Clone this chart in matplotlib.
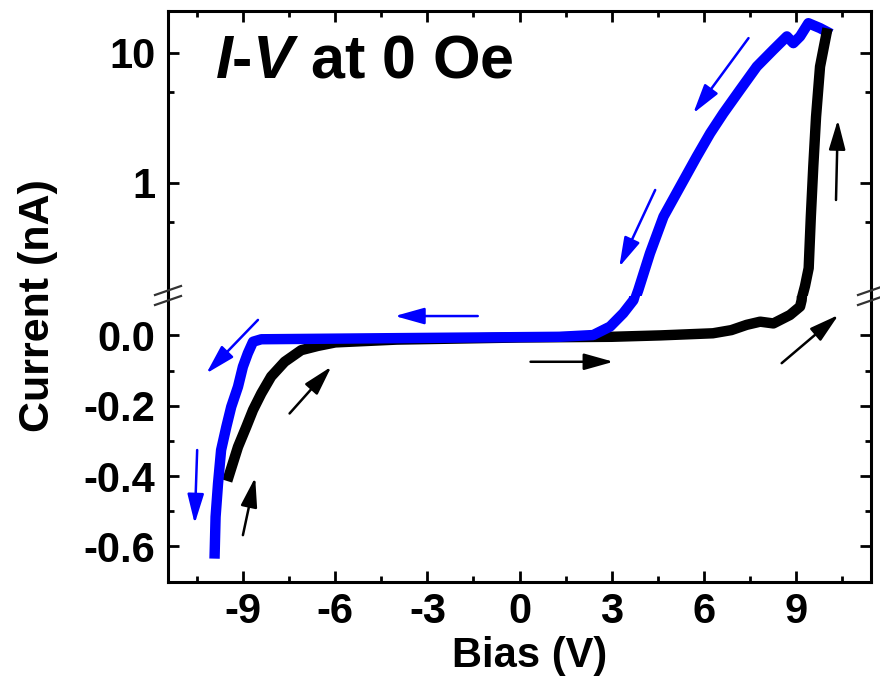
import matplotlib
matplotlib.use("Agg")
import matplotlib.pyplot as plt
from matplotlib.ticker import FixedLocator, NullFormatter

plt.rcParams['font.family'] = ['Liberation Sans', 'DejaVu Sans']
plt.rcParams['font.weight'] = 'bold'
plt.rcParams['axes.unicode_minus'] = False
plt.rcParams['mathtext.fontset'] = 'custom'
plt.rcParams['mathtext.it'] = 'Liberation Sans:italic:bold'
plt.rcParams['mathtext.rm'] = 'Liberation Sans:bold'

# ---------------- data ----------------
# forward sweep (black), linear section
black_low_x = [-9.47, -9.34, -9.17, -8.90, -8.68, -8.41, -8.09, -7.65, -7.11, -6.57, -6.0, -4.0,
               0.0, 3.0, 4.6, 6.3, 6.9, 7.4, 7.84, 8.27, 8.81, 9.14, 9.19, 9.21]
black_low_y = [-0.40, -0.364, -0.317, -0.26, -0.212, -0.165, -0.117, -0.075, -0.042, -0.030, -0.020, -0.012,
               -0.006, -0.004, 0.0, 0.006, 0.015, 0.030, 0.039, 0.034, 0.058, 0.082, 0.10, 0.12]
# forward sweep (black), log section
black_up_x = [9.20, 9.30, 9.42, 9.49, 9.57, 9.66, 9.79, 10.0]
black_up_y = [0.13, 0.16, 0.22, 0.547, 1.33, 3.2, 7.8, 14.0]

# backward sweep (blue), log section
blue_up_x = [10.0, 9.79, 9.41, 9.14, 8.92, 8.71, 8.27, 7.73, 7.18, 6.64, 6.21, 5.77, 5.23, 4.69, 4.25, 3.87, 3.78]
blue_up_y = [14.5, 15.4, 16.8, 13.3, 11.8, 13.3, 10.5, 7.8, 5.15, 3.41, 2.39, 1.58, 0.93, 0.547, 0.286, 0.149, 0.13]
# backward sweep (blue), linear section
blue_low_x = [3.78, 3.71, 3.38, 2.95, 2.40, 1.30, -4.3, -8.41, -8.68, -8.85, -9.01, -9.17, -9.39, -9.55,
              -9.72, -9.82, -9.90, -9.93]
blue_low_y = [0.12, 0.10, 0.063, 0.025, 0.001, -0.004, -0.008, -0.011, -0.018, -0.051, -0.089, -0.146, -0.203,
              -0.26, -0.326, -0.421, -0.516, -0.62]

# direction arrows: (tail, head)
black_arrows_low = [((-9.01, -0.568), (-8.61, -0.404)),
                    ((-7.49, -0.222), (-6.13, -0.089)),
                    ((0.36, -0.075), (3.06, -0.075)),
                    ((8.54, -0.079), (10.39, 0.058))]
black_arrows_up = [((10.31, 0.735), (10.37, 3.03))]
blue_arrows_up = [((7.46, 12.9), (5.66, 3.41)),
                  ((4.42, 0.877), (3.25, 0.225))]
blue_arrows_low = [((-1.36, 0.055), (-4.06, 0.055)),
                   ((-8.52, 0.044), (-10.2, -0.108)),
                   ((-10.50, -0.326), (-10.58, -0.535))]

x_major = [-9, -6, -3, 0, 3, 6, 9]
x_labels = ['-9', '-6', '-3', '0', '3', '6', '9']
x_minor = [-10.5, -7.5, -4.5, -1.5, 1.5, 4.5, 7.5, 10.5]
y_up_major = [1, 10]
y_up_labels = ['1', '10']
y_up_minor = [0.5, 5]
y_low_major = [-0.6, -0.4, -0.2, 0.0]
y_low_labels = ['-0.6', '-0.4', '-0.2', '0.0']
y_low_minor = [-0.5, -0.3, -0.1]

# ---------------- layout ----------------
W, H = 880, 683
fig = plt.figure(figsize=(W / 100, H / 100), dpi=100)


def fx(px):
    return px / W


def fy(py):
    return 1 - py / H


L, R, T, B, BRK = 168, 871, 11, 582, 296
ax_up = fig.add_axes([fx(L), fy(BRK), (R - L) / W, (BRK - T) / H])
ax_lo = fig.add_axes([fx(L), fy(B), (R - L) / W, (B - BRK) / H])

BLUE = '#0000FF'
LW = 7.5

ax_lo.plot(black_low_x, black_low_y, color='k', lw=LW, solid_joinstyle='round', zorder=2)
ax_lo.plot(blue_low_x, blue_low_y, color=BLUE, lw=LW, solid_joinstyle='round', zorder=3)
ax_up.plot(blue_up_x, blue_up_y, color=BLUE, lw=LW, solid_joinstyle='round', zorder=2)
ax_up.plot(black_up_x, black_up_y, color='k', lw=LW, solid_joinstyle='round', zorder=3)

ast = '-|>,head_length=1.0,head_width=0.28'


def arrows(ax, lst, color):
    for tail, head in lst:
        ax.annotate('', xy=head, xytext=tail,
                    arrowprops=dict(arrowstyle=ast, mutation_scale=18, lw=1.8, color=color,
                                    shrinkA=0, shrinkB=0))


arrows(ax_lo, black_arrows_low, 'k')
arrows(ax_up, black_arrows_up, 'k')
arrows(ax_up, blue_arrows_up, BLUE)
arrows(ax_lo, blue_arrows_low, BLUE)

XL = (-11.45, 11.45)
ax_up.set_xlim(XL)
ax_lo.set_xlim(XL)
ax_up.set_yscale('log')
ax_up.set_ylim(0.1343, 20.85)
ax_lo.set_ylim(-0.7012, 0.112)

for ax in (ax_up, ax_lo):
    for s in ax.spines.values():
        s.set_linewidth(2.2)
    ax.xaxis.set_major_locator(FixedLocator(x_major))
    ax.xaxis.set_minor_locator(FixedLocator(x_minor))
    ax.tick_params(which='major', direction='in', length=8, width=2.0, labelsize=30, pad=9)
    ax.tick_params(which='minor', direction='in', length=4.5, width=2.0)

ax_up.spines['bottom'].set_visible(False)
ax_lo.spines['top'].set_visible(False)

ax_up.tick_params(axis='x', which='both', top=True, bottom=False, labelbottom=False, labeltop=False)
ax_lo.tick_params(axis='x', which='both', top=False, bottom=True, labelbottom=True, pad=7)
ax_lo.set_xticklabels(x_labels)
for ax in (ax_up, ax_lo):
    ax.tick_params(axis='y', which='both', left=True, right=True, labelleft=True, labelright=False)

ax_up.yaxis.set_major_locator(FixedLocator(y_up_major))
ax_up.yaxis.set_minor_locator(FixedLocator(y_up_minor))
ax_up.yaxis.set_minor_formatter(NullFormatter())
ax_up.set_yticklabels(y_up_labels)
ax_lo.yaxis.set_major_locator(FixedLocator(y_low_major))
ax_lo.yaxis.set_minor_locator(FixedLocator(y_low_minor))
ax_lo.set_yticklabels(y_low_labels)

# break marks
for sx in (L, R):
    for yc in (290.5, 300.5):
        fig.add_artist(plt.Line2D([fx(sx - 13), fx(sx + 13)], [fy(yc + 4.5), fy(yc - 4.5)],
                                  transform=fig.transFigure, color='#333333', lw=1.6, zorder=10))

fig.text(fx(215), fy(78), r'$\mathit{I}$-$\mathit{V}$ at 0 Oe', fontsize=44, va='baseline', ha='left',
         fontweight='bold')
fig.text(fx(38), fy(306), 'Current (nA)', rotation=90, fontsize=31, fontweight='bold',
         ha='center', va='center')
fig.text(fx(529.5), fy(667), 'Bias (V)', fontsize=30, fontweight='bold', ha='center', va='baseline')

fig.savefig('out.png', dpi=100)
